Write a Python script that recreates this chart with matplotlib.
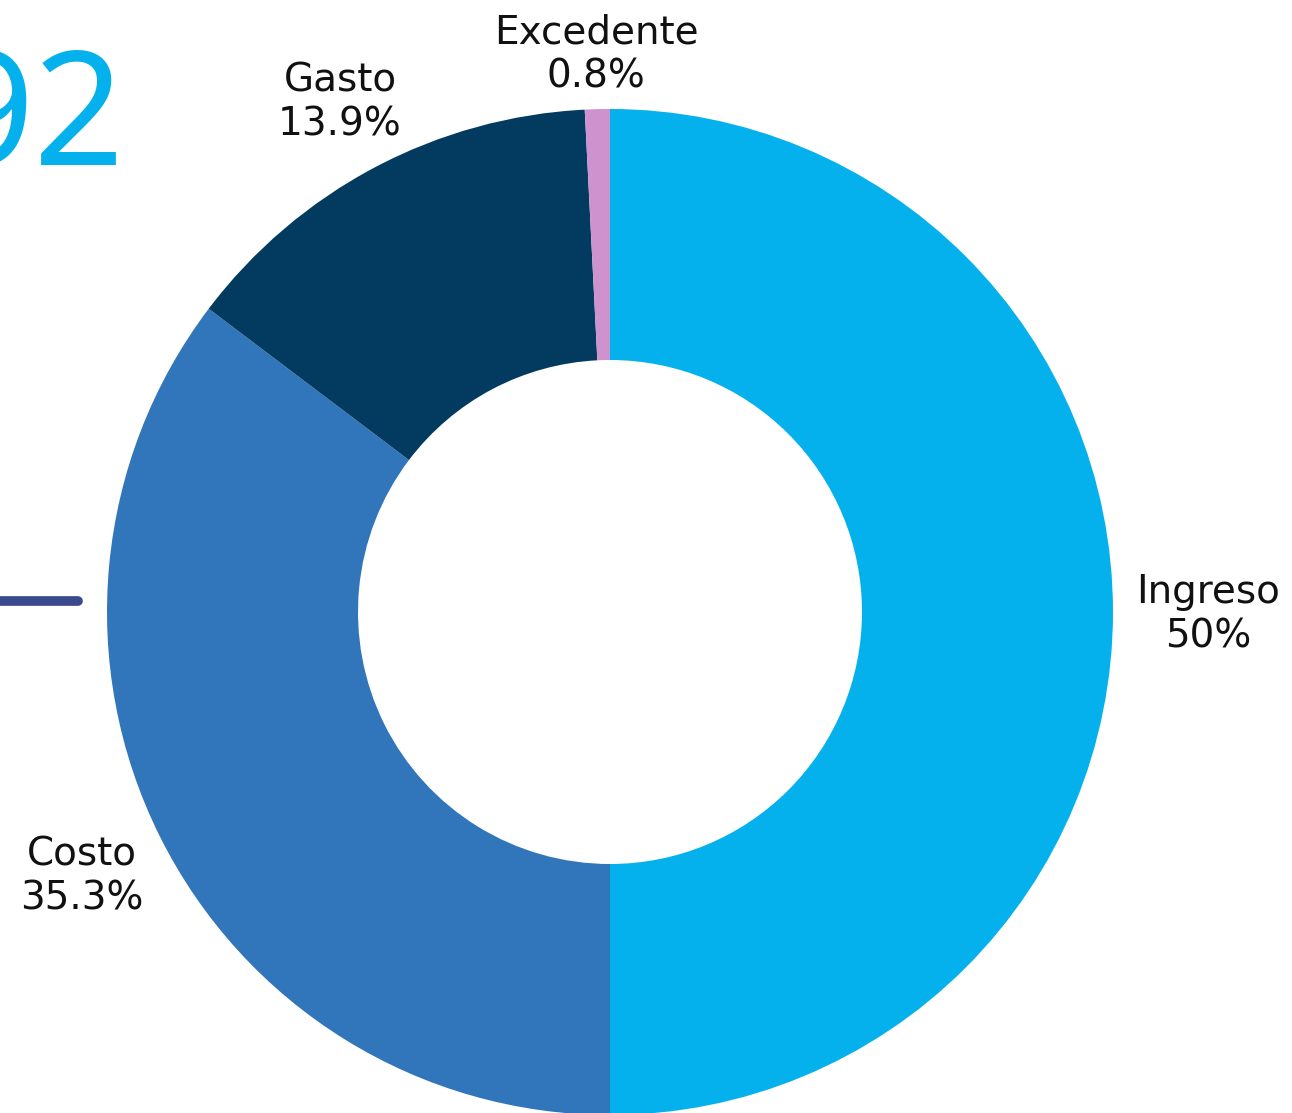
import matplotlib
matplotlib.use("Agg")
import matplotlib.pyplot as plt

categories = ["Ingreso", "Costo", "Gasto", "Excedente"]
values = [50.0, 35.3, 13.9, 0.8]
pct_labels = ["50%", "35.3%", "13.9%", "0.8%"]
colors = ["#05B1EC", "#3176BB", "#023B5F", "#CE93CE"]

W, H = 1292, 1113
fig = plt.figure(figsize=(W / 100, H / 100), dpi=100)
ax = fig.add_axes([0, 0, 1, 1])

cx, cy, R = 610, H - 612, 503
labels = [f"{c}\n{p}" for c, p in zip(categories, pct_labels)]
wedges, texts = ax.pie(values, colors=colors, startangle=90, counterclock=False,
                       center=(cx, cy), radius=R, labels=labels, labeldistance=1.17,
                       wedgeprops=dict(width=251, linewidth=0),
                       textprops=dict(fontsize=28, color="#111111", family="DejaVu Sans"),
                       frame=True)
ax.set_xlim(0, W)
ax.set_ylim(0, H)
ax.set_aspect("equal")
ax.axis("off")

pos_adj = {"Ingreso": (1208, H - 614), "Costo": (82, H - 876), "Gasto": (340, H - 102), "Excedente": (596, H - 54)}
for t, c in zip(texts, categories):
    t.set_position(pos_adj[c])
    t.set_ha("center")
    t.set_va("center")
    t.set_multialignment("center")
    t.set_linespacing(1.2)

# partial big number at top-left (cut off at the edge, as in the reference)
ax.text(124, H - 165, "92", fontsize=114, color="#05B1EC", ha="right", va="baseline",
        family="Noto Sans", fontweight="normal")
# decorative line
ax.plot([0, 78], [H - 601, H - 601], color="#3B4A8C", linewidth=7, solid_capstyle="round")

fig.savefig("out.png", dpi=100)
